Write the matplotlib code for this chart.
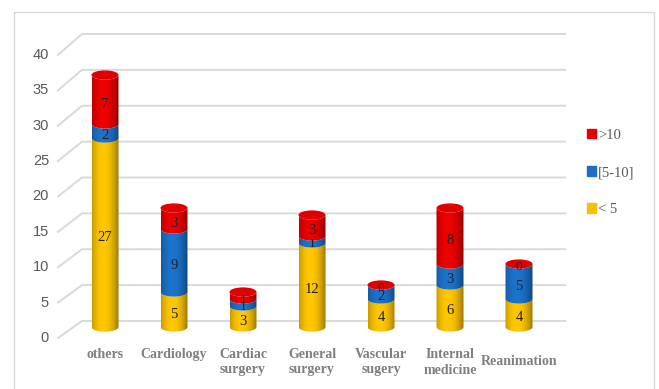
import numpy as np
import matplotlib
matplotlib.use("Agg")
import matplotlib.pyplot as plt
from matplotlib.patches import Polygon, Ellipse, Rectangle, Patch

# data
categories = ["others", "Cardiology", "Cardiac\nsurgery", "General\nsurgery",
              "Vascular\nsugery", "Internal\nmedicine", "Reanimation"]
lt5 = [27, 5, 3, 12, 4, 6, 4]
mid5_10 = [2, 9, 1, 1, 2, 3, 5]
gt10 = [7, 3, 1, 3, 0, 8, 0]
series_names = ["< 5", "[5-10]", ">10"]
series_colors = ["#F7C000", "#1B6FC5", "#E60000"]
yticks = [0, 5, 10, 15, 20, 25, 30, 35, 40]

W, H = 659, 389
fig = plt.figure(figsize=(W / 100, H / 100), dpi=100)
ax = fig.add_axes([0, 0, 1, 1])

# pixel -> data helpers (category index on x, value on y)
X0, DX, Y0, DY = 105, 69, 327, 7.0
def px(x):
    return (x - X0) / DX
def py(y):
    return (Y0 - y) / DY

ax.set_xlim(px(0), px(W))
ax.set_ylim(py(H), py(0))
ax.axis("off")

# outer frame
ax.add_patch(Rectangle((14 / W, -0.05), (654 - 14) / W, 1.05 - 12 / H,
                       transform=ax.transAxes, fill=False, ec="#D9D9D9",
                       lw=1.0, clip_on=False))

# perspective gridlines + tick labels
grid_c = "#D9D9D9"
for v in yticks:
    yl = -1.57 + v * 1.011
    yb = 0.86 + v * 1.025
    ax.plot([px(58), px(82), px(565)], [yl, yb, yb], color=grid_c, lw=1.4, zorder=1)
    ax.text(px(49), yl, str(v), ha="right", va="center", fontsize=10.5,
            color="#595959", family="Liberation Sans")

w = 13.5 / DX   # half width
e = 4.6 / DY    # ellipse half height
th = np.linspace(np.pi, 2 * np.pi, 60)

def shade_img(color):
    rgb = np.array(matplotlib.colors.to_rgb(color))
    s = np.linspace(-1, 1, 64)
    f = 1.04 - 0.32 * np.abs(s + 0.15) ** 2.0
    img = np.clip(rgb[None, :] * f[:, None], 0, 1)
    return img[None, :, :]

def segment(c, b, t, color):
    xs = c + w * np.cos(th)
    xb = np.column_stack([xs, b + e * np.sin(th)])
    xt = np.column_stack([xs[::-1], t + e * np.sin(th[::-1])])
    poly = Polygon(np.vstack([xb, xt]), closed=True, fc="none", ec="none")
    ax.add_patch(poly)
    im = ax.imshow(shade_img(color), extent=(c - w, c + w, b - e, t + e),
                   aspect="auto", zorder=3, interpolation="bilinear")
    im.set_clip_path(poly)

for i in range(len(categories)):
    vals = [lt5[i], mid5_10[i], gt10[i]]
    b = 0
    for k, v in enumerate(vals):
        fs = 10.5 if v > 1 else 9.5
        if v > 0:
            segment(i, b, b + v, series_colors[k])
            ax.text(i, b + v / 2 - e, str(v), ha="center", va="center",
                    fontsize=fs, color="#222222", family="Liberation Serif", zorder=6)
        else:
            ax.text(i, b - 0.4, str(v), ha="center", va="center",
                    fontsize=fs, color="#222222", family="Liberation Serif", zorder=6)
        b += v
    cap = np.array(matplotlib.colors.to_rgb(series_colors[2])) * 0.97
    ax.add_patch(Ellipse((i, b), 2 * w, 2 * e, fc=cap, ec="none", zorder=4))
    ty = py(348) if "\n" in categories[i] or i == 0 or i == 1 else py(355)
    ax.text(i, ty, categories[i], ha="center", va="top", fontsize=10,
            fontweight="bold", color="#7F7F7F", family="Liberation Serif",
            linespacing=1.25)

handles = [Patch(color=series_colors[k]) for k in (2, 1, 0)]
labels = [series_names[k] for k in (2, 1, 0)]
leg = ax.legend(handles, labels, loc="upper left",
                bbox_to_anchor=(587 / W, 1 - 129 / H), frameon=False,
                handlelength=0.6, handleheight=0.6, handletextpad=0.15,
                labelspacing=1.65, borderpad=0, borderaxespad=0,
                prop={"family": "Liberation Serif", "size": 10.5})
for t in leg.get_texts():
    t.set_color("#595959")

fig.savefig("out.png", dpi=100)
